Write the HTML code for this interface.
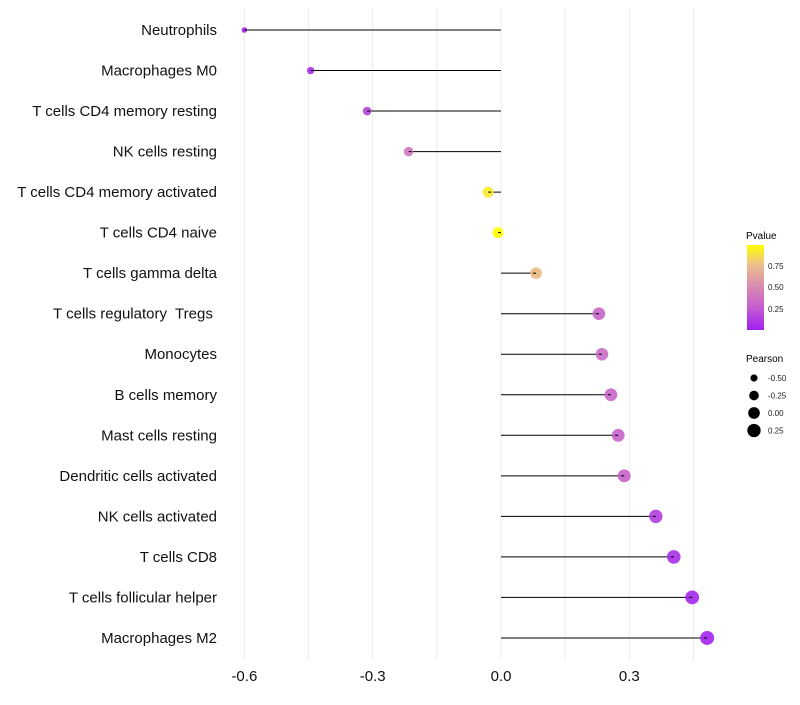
<!DOCTYPE html>
<html><head><meta charset="utf-8"><style>
body{margin:0;background:#fff;font-family:"Liberation Sans",sans-serif}
</style></head><body>
<svg id="chart" width="800" height="700" xmlns="http://www.w3.org/2000/svg" font-family="Liberation Sans, sans-serif">
<g id="grid"></g><g id="marks"></g><g id="ylabels"></g><g id="xlabels"></g>
<g id="legend">
<defs><linearGradient id="pg" x1="0" y1="1" x2="0" y2="0">
<stop offset="0" stop-color="#A020F0"/><stop offset="0.26" stop-color="#C45CCF"/><stop offset="0.52" stop-color="#DA8CB0"/><stop offset="0.77" stop-color="#EEC08A"/><stop offset="1" stop-color="#FFFF00"/></linearGradient></defs>
<text x="746" y="239" font-size="10">Pvalue</text>
<rect x="747" y="245" width="17" height="85" fill="url(#pg)"/>
<g font-size="8" fill="#222">
<text x="768" y="269">0.75</text><text x="768" y="290">0.50</text><text x="768" y="312">0.25</text></g>
<text x="746" y="362" font-size="10">Pearson</text>
<g id="sizeLegend"></g>
</g>
</svg>
<script>
const categories=["Neutrophils","Macrophages M0","T cells CD4 memory resting","NK cells resting","T cells CD4 memory activated","T cells CD4 naive","T cells gamma delta","T cells regulatory  Tregs ","Monocytes","B cells memory","Mast cells resting","Dendritic cells activated","NK cells activated","T cells CD8","T cells follicular helper","Macrophages M2"];
const pearson=[-0.6,-0.445,-0.313,-0.216,-0.03,-0.007,0.082,0.229,0.236,0.257,0.274,0.288,0.362,0.404,0.447,0.482];
const pvalues=[0.02,0.05,0.15,0.38,0.9,0.97,0.72,0.3,0.33,0.3,0.27,0.28,0.12,0.06,0.03,0.02];
const xTicks=[-0.6,-0.3,0.0,0.3];
const xTickLabels=["-0.6","-0.3","0.0","0.3"];
const gridVals=[-0.6,-0.45,-0.3,-0.15,0,0.15,0.3,0.45];
const sizeLegendVals=[-0.5,-0.25,0,0.25];
const sizeLegendLabels=["-0.50","-0.25","0.00","0.25"];
const NS="http://www.w3.org/2000/svg";
const xs=v=>501+v*427.7;
const ys=i=>30+i*40.53;
const rs=v=>Math.sqrt(Math.max(4,30.7+38.2*v));
const stops=[[0,[160,32,240]],[0.25,[196,92,207]],[0.5,[218,140,176]],[0.75,[240,190,125]],[0.97,[255,255,0]]];
function col(p){p=Math.max(0,Math.min(0.97,p));for(let k=1;k<stops.length;k++){if(p<=stops[k][0]){const a=stops[k-1],b=stops[k],t=(p-a[0])/(b[0]-a[0]);return "rgb("+a[1].map((c,j)=>Math.round(c+(b[1][j]-c)*t)).join(",")+")";}}return "rgb(255,255,0)";}
function mk(t,a,parent){const e=document.createElementNS(NS,t);for(const k in a)e.setAttribute(k,a[k]);parent.appendChild(e);return e;}
const grid=document.getElementById('grid');
gridVals.forEach(v=>{const l=mk('line',{x1:xs(v),x2:xs(v),y1:8,y2:660,stroke:'#ececec','stroke-width':1},grid);

});
const marks=document.getElementById('marks');
const yl=document.getElementById('ylabels');
categories.forEach((c,i)=>{
const y=ys(i);
const ln=mk('line',{x1:xs(0),x2:xs(pearson[i]),y1:y,y2:y,stroke:'#000','stroke-width':1},marks);


const ci=mk('circle',{cx:xs(pearson[i]),cy:y,r:rs(pearson[i]),fill:col(pvalues[i]),'fill-opacity':0.9},marks);


const d=mk('line',{x1:xs(pearson[i]),x2:xs(pearson[i])+(pearson[i]<0?3:-3),y1:y,y2:y,stroke:'#000','stroke-width':1},marks);


const t=mk('text',{x:217,y:y+5,'text-anchor':'end','font-size':15,fill:'#111'},yl);t.textContent=c;


t.setAttribute('xml:space','preserve');
t.style.whiteSpace='pre';
});
const xl=document.getElementById('xlabels');
xTicks.forEach((v,i)=>{const t=mk('text',{x:xs(v),y:681,'text-anchor':'middle','font-size':15,fill:'#111'},xl);t.textContent=xTickLabels[i];

});
const sl=document.getElementById('sizeLegend');
sizeLegendVals.forEach((v,i)=>{const y=378+i*17.5;
const c=mk('circle',{cx:754,cy:y,r:rs(v)*1.05,fill:'#000'},sl);


const t=mk('text',{x:768,y:y+3,'font-size':8,fill:'#222'},sl);t.textContent=sizeLegendLabels[i];

});
</script>
</body></html>
